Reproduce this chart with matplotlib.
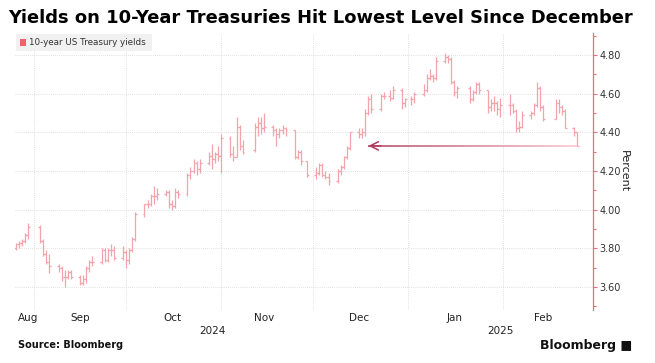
import matplotlib
matplotlib.use("Agg")
import matplotlib.pyplot as plt
import matplotlib.dates as mdates
from matplotlib.collections import LineCollection
from matplotlib.patches import Rectangle
import numpy as np

# daily 10-year yield bars (open, high, low, close)
dates = ["2024-08-26", "2024-08-27", "2024-08-28", "2024-08-29", "2024-08-30",
         "2024-09-03", "2024-09-04", "2024-09-05", "2024-09-06", "2024-09-09",
         "2024-09-10", "2024-09-11", "2024-09-12", "2024-09-13", "2024-09-16",
         "2024-09-17", "2024-09-18", "2024-09-19", "2024-09-20", "2024-09-23",
         "2024-09-24", "2024-09-25", "2024-09-26", "2024-09-27", "2024-09-30",
         "2024-10-01", "2024-10-02", "2024-10-03", "2024-10-04", "2024-10-07",
         "2024-10-08", "2024-10-09", "2024-10-10", "2024-10-11", "2024-10-14",
         "2024-10-15", "2024-10-16", "2024-10-17", "2024-10-18", "2024-10-21",
         "2024-10-22", "2024-10-23", "2024-10-24", "2024-10-25", "2024-10-28",
         "2024-10-29", "2024-10-30", "2024-10-31", "2024-11-01", "2024-11-04",
         "2024-11-05", "2024-11-06", "2024-11-07", "2024-11-08", "2024-11-12",
         "2024-11-13", "2024-11-14", "2024-11-15", "2024-11-18", "2024-11-19",
         "2024-11-20", "2024-11-21", "2024-11-22", "2024-11-25", "2024-11-26",
         "2024-11-27", "2024-11-29", "2024-12-02", "2024-12-03", "2024-12-04",
         "2024-12-05", "2024-12-06", "2024-12-09", "2024-12-10", "2024-12-11",
         "2024-12-12", "2024-12-13", "2024-12-16", "2024-12-17", "2024-12-18",
         "2024-12-19", "2024-12-20", "2024-12-23", "2024-12-24", "2024-12-26",
         "2024-12-27", "2024-12-30", "2024-12-31", "2025-01-02", "2025-01-03",
         "2025-01-06", "2025-01-07", "2025-01-08", "2025-01-09", "2025-01-10",
         "2025-01-13", "2025-01-14", "2025-01-15", "2025-01-16", "2025-01-17",
         "2025-01-21", "2025-01-22", "2025-01-23", "2025-01-24", "2025-01-27",
         "2025-01-28", "2025-01-29", "2025-01-30", "2025-01-31", "2025-02-03",
         "2025-02-04", "2025-02-05", "2025-02-06", "2025-02-07", "2025-02-10",
         "2025-02-11", "2025-02-12", "2025-02-13", "2025-02-14", "2025-02-18",
         "2025-02-19", "2025-02-20", "2025-02-21", "2025-02-24", "2025-02-25"]

opens = [3.80, 3.82, 3.83, 3.84, 3.87, 3.91, 3.84, 3.77, 3.73, 3.71,
         3.70, 3.65, 3.65, 3.68, 3.65, 3.62, 3.64, 3.70, 3.73, 3.73,
         3.79, 3.74, 3.79, 3.79, 3.75, 3.78, 3.74, 3.79, 3.85, 3.98,
         4.03, 4.03, 4.07, 4.07, 4.08, 4.09, 4.03, 4.02, 4.09, 4.08,
         4.18, 4.20, 4.24, 4.21, 4.24, 4.28, 4.26, 4.29, 4.28, 4.37,
         4.29, 4.27, 4.43, 4.33, 4.31, 4.43, 4.45, 4.42, 4.43, 4.41,
         4.39, 4.41, 4.42, 4.41, 4.27, 4.30, 4.25, 4.18, 4.19, 4.23,
         4.18, 4.17, 4.15, 4.20, 4.22, 4.27, 4.32, 4.40, 4.39, 4.40,
         4.50, 4.57, 4.52, 4.59, 4.59, 4.58, 4.62, 4.55, 4.57, 4.57,
         4.60, 4.62, 4.68, 4.69, 4.68, 4.77, 4.79, 4.78, 4.66, 4.61,
         4.63, 4.57, 4.61, 4.65, 4.62, 4.53, 4.55, 4.55, 4.52, 4.54,
         4.54, 4.51, 4.42, 4.43, 4.49, 4.50, 4.54, 4.63, 4.53, 4.47,
         4.55, 4.53, 4.51, 4.42, 4.40]

highs = [3.83, 3.84, 3.85, 3.88, 3.93, 3.92, 3.85, 3.79, 3.77, 3.72,
         3.71, 3.69, 3.69, 3.69, 3.66, 3.66, 3.71, 3.74, 3.76, 3.80,
         3.80, 3.80, 3.82, 3.81, 3.81, 3.79, 3.80, 3.86, 3.99, 4.03,
         4.05, 4.08, 4.12, 4.11, 4.10, 4.10, 4.05, 4.11, 4.10, 4.19,
         4.22, 4.26, 4.25, 4.26, 4.30, 4.34, 4.30, 4.33, 4.39, 4.38,
         4.33, 4.48, 4.44, 4.36, 4.45, 4.48, 4.48, 4.50, 4.44, 4.42,
         4.42, 4.44, 4.43, 4.41, 4.31, 4.31, 4.25, 4.22, 4.24, 4.24,
         4.20, 4.19, 4.21, 4.23, 4.28, 4.33, 4.40, 4.42, 4.42, 4.52,
         4.59, 4.60, 4.60, 4.61, 4.62, 4.64, 4.63, 4.58, 4.59, 4.61,
         4.65, 4.70, 4.73, 4.70, 4.79, 4.81, 4.80, 4.79, 4.67, 4.64,
         4.64, 4.62, 4.66, 4.66, 4.62, 4.57, 4.59, 4.56, 4.58, 4.60,
         4.55, 4.52, 4.46, 4.51, 4.51, 4.55, 4.66, 4.64, 4.54, 4.57,
         4.57, 4.54, 4.52, 4.43, 4.40]

lows = [3.79, 3.80, 3.81, 3.83, 3.85, 3.83, 3.76, 3.72, 3.67, 3.68,
        3.63, 3.60, 3.64, 3.64, 3.61, 3.61, 3.62, 3.68, 3.71, 3.72,
        3.73, 3.73, 3.76, 3.74, 3.74, 3.70, 3.72, 3.78, 3.84, 3.96,
        4.01, 4.02, 4.03, 4.05, 4.07, 4.01, 4.00, 4.01, 4.06, 4.07,
        4.16, 4.19, 4.18, 4.19, 4.23, 4.21, 4.24, 4.25, 4.19, 4.27,
        4.25, 4.27, 4.31, 4.29, 4.30, 4.38, 4.39, 4.40, 4.38, 4.33,
        4.37, 4.39, 4.38, 4.26, 4.26, 4.23, 4.17, 4.16, 4.18, 4.17,
        4.16, 4.13, 4.14, 4.18, 4.21, 4.26, 4.31, 4.37, 4.37, 4.38,
        4.49, 4.50, 4.51, 4.57, 4.56, 4.57, 4.52, 4.53, 4.54, 4.55,
        4.59, 4.61, 4.67, 4.66, 4.67, 4.76, 4.76, 4.65, 4.59, 4.58,
        4.55, 4.56, 4.60, 4.60, 4.50, 4.51, 4.51, 4.49, 4.48, 4.49,
        4.50, 4.40, 4.40, 4.42, 4.47, 4.49, 4.53, 4.51, 4.46, 4.47,
        4.50, 4.49, 4.42, 4.38, 4.33]

closes = [3.82, 3.83, 3.84, 3.87, 3.91, 3.84, 3.77, 3.73, 3.71, 3.70,
          3.65, 3.65, 3.68, 3.65, 3.62, 3.64, 3.70, 3.73, 3.73, 3.79,
          3.74, 3.79, 3.79, 3.75, 3.78, 3.74, 3.79, 3.85, 3.98, 4.03,
          4.03, 4.07, 4.07, 4.08, 4.09, 4.03, 4.02, 4.09, 4.08, 4.18,
          4.20, 4.24, 4.21, 4.24, 4.28, 4.26, 4.29, 4.28, 4.37, 4.29,
          4.27, 4.43, 4.33, 4.30, 4.43, 4.45, 4.42, 4.43, 4.41, 4.39,
          4.41, 4.42, 4.41, 4.27, 4.30, 4.25, 4.18, 4.19, 4.23, 4.18,
          4.17, 4.15, 4.20, 4.22, 4.27, 4.32, 4.40, 4.39, 4.40, 4.50,
          4.57, 4.52, 4.59, 4.59, 4.58, 4.62, 4.55, 4.57, 4.57, 4.60,
          4.62, 4.68, 4.69, 4.68, 4.77, 4.79, 4.78, 4.66, 4.61, 4.63,
          4.57, 4.61, 4.65, 4.62, 4.53, 4.55, 4.55, 4.52, 4.54, 4.54,
          4.51, 4.42, 4.43, 4.49, 4.50, 4.54, 4.63, 4.53, 4.47, 4.55,
          4.53, 4.51, 4.42, 4.40, 4.33]

month_labels = ["Aug", "Sep", "Oct", "Nov", "Dec", "Jan", "Feb"]
month_label_dates = ["2024-08-30", "2024-09-16", "2024-10-16", "2024-11-15",
                     "2024-12-16", "2025-01-16", "2025-02-14"]
month_starts = ["2024-09-01", "2024-10-01", "2024-11-01", "2024-12-01",
                "2025-01-01", "2025-02-01"]
year_labels = ["2024", "2025"]
year_label_dates = ["2024-10-29", "2025-01-31"]

arrow_from = "2025-02-25"
arrow_to = "2024-12-19"
arrow_level = 4.33

bar_col = "#f4a3ab"
axis_col = "#ee6b7b"

x = mdates.datestr2num(dates)
o, h, l, c = map(np.array, (opens, highs, lows, closes))

fig = plt.figure(figsize=(6.55, 3.63), dpi=100)
ax = fig.add_axes([15 / 655, 1 - 310 / 363, 578 / 655, 277 / 363])

w = 0.6
ax.vlines(x, l, h, color=bar_col, lw=0.9)
ax.hlines(o, x - w, x, color=bar_col, lw=0.9)
ax.hlines(c, x, x + w, color=bar_col, lw=0.9)

# arrow with a colour fade from left to right
x0 = mdates.datestr2num(arrow_to)
x1 = mdates.datestr2num(arrow_from)
xs = np.linspace(x0, x1, 60)
segs = [[(xs[i], arrow_level), (xs[i + 1], arrow_level)] for i in range(len(xs) - 1)]
fade = np.linspace(0, 1, len(segs))[:, None]
c_dark = np.array(matplotlib.colors.to_rgb("#b23a5c"))
c_light = np.array(matplotlib.colors.to_rgb("#f6c3cb"))
ax.add_collection(LineCollection(segs, colors=c_dark * (1 - fade) + c_light * fade, lw=1.1))
ax.annotate("", xy=(x0, arrow_level), xytext=(x0 + 4, arrow_level),
            arrowprops=dict(arrowstyle="->,head_length=0.6,head_width=0.3",
                            color="#b23a5c", lw=1.1, shrinkA=0, shrinkB=0))

ax.set_xlim(mdates.datestr2num("2024-08-25") + 0.8, mdates.datestr2num("2025-03-02") + 0.2)
ax.set_ylim(3.481, 4.914)

ax.set_xticks(mdates.datestr2num(month_starts))
ax.set_xticklabels([])
ax.tick_params(axis="x", length=0)
ax.set_yticks([3.6, 3.8, 4.0, 4.2, 4.4, 4.6, 4.8])
ax.set_yticks(np.arange(3.5, 4.91, 0.1), minor=True)
ax.yaxis.set_major_formatter(matplotlib.ticker.FormatStrFormatter("%.2f"))
ax.yaxis.tick_right()
ax.tick_params(axis="y", which="both", direction="out", color=axis_col,
               labelsize=7, labelcolor="#333333", pad=1.5)
ax.tick_params(axis="y", which="major", length=3, width=0.8)
ax.tick_params(axis="y", which="minor", length=2.5, width=0.8)
ax.yaxis.set_label_position("right")
ax.set_ylabel("Percent", rotation=270, fontsize=8, color="#222222", labelpad=6)

ax.grid(True, which="major", color="#d6d6d6", ls=(0, (1, 1.5)), lw=0.6)
for s in ["left", "top", "bottom"]:
    ax.spines[s].set_visible(False)
ax.spines["right"].set_color(axis_col)
ax.spines["right"].set_linewidth(0.9)

trans = matplotlib.transforms.blended_transform_factory(ax.transData, fig.transFigure)
for lab, d in zip(month_labels, month_label_dates):
    ax.text(mdates.datestr2num(d), 1 - 318 / 363, lab, transform=trans,
            ha="center", va="center", fontsize=7.5, color="#222222")
for lab, d in zip(year_labels, year_label_dates):
    ax.text(mdates.datestr2num(d), 1 - 331 / 363, lab, transform=trans,
            ha="center", va="center", fontsize=7.5, color="#222222")

# legend chip
ax.add_patch(Rectangle((16 / 655, 1 - 51 / 363), 136 / 655, 17 / 363,
                       transform=fig.transFigure, fc="#f1f1f1", ec="none", zorder=3))
ax.add_patch(Rectangle((20 / 655, 1 - 46 / 363), 6 / 655, 7 / 363,
                       transform=fig.transFigure, fc="#f0606e", ec="none", zorder=4))
fig.text(29 / 655, 1 - 42.5 / 363, "10-year US Treasury yields", fontsize=6.3,
         color="#333333", va="center", ha="left", zorder=5)

fig.text(8 / 655, 1 - 18 / 363, "Yields on 10-Year Treasuries Hit Lowest Level Since December",
         fontsize=12.85, fontweight="bold", color="#000000", va="center", ha="left")
fig.text(18 / 655, 1 - 345 / 363, "Source: Bloomberg", fontsize=7, fontweight="bold",
         color="#111111", va="center", ha="left")
fig.text(632 / 655, 1 - 345 / 363, "Bloomberg \u25a0", fontsize=9, fontweight="bold",
         color="#111111", va="center", ha="right")

fig.savefig("out.png", dpi=100, facecolor="white")
